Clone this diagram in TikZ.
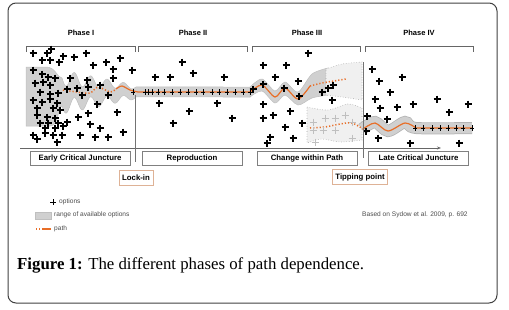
\documentclass[tikz,border=0pt]{standalone}
\usepackage{fontspec}
\setmainfont{Liberation Serif}
\setsansfont{Liberation Sans}
\usepackage{xcolor}
\usetikzlibrary{arrows.meta}

\definecolor{trailorange}{RGB}{232,110,40}
\definecolor{bandgray}{RGB}{208,208,208}
\definecolor{turnbrown}{RGB}{222,178,150}

\begin{document}
\begin{tikzpicture}[x=1pt, y=-1pt,
    phase/.style={inner sep=0pt, font=\sffamily\bfseries\fontsize{7.5}{8}\selectfont},
    stage/.style={rectangle, draw=black!50, fill=white, minimum width=100pt, minimum height=14pt, inner sep=0pt, font=\sffamily\bfseries\fontsize{7.8}{8}\selectfont},
    turn/.style={rectangle, draw=turnbrown, fill=white, minimum height=15pt, inner sep=3pt, font=\sffamily\bfseries\fontsize{7.8}{8}\selectfont},
    legend/.style={anchor=west, inner sep=0pt, text=black!70, font=\sffamily\fontsize{6.6}{7}\selectfont},
    bracket/.style={draw=black!60, line width=0.9pt},
    divider/.style={draw=black!55, line width=0.9pt},
    opt/.style={draw=black, line width=1.1pt},
    faded/.style={draw=black!25, line width=1pt},
    band/.style={fill=bandgray, draw=black!25, line width=0.5pt},
    fog/.style={fill=black!6, draw=black!35, dotted, line width=0.6pt},
    trail/.style={draw=trailorange, line width=1.2pt},
    tick/.style={draw=black, line width=0.8pt}
]
\useasboundingbox (0,0) rectangle (509,309);

% frame
\draw[black!75, line width=1pt, rounded corners=8pt] (8,3) rectangle (497,303);

% phases and brackets
\node[phase] (ph1) at (81,33) {Phase I};
\node[phase] (ph2) at (193,33) {Phase II};
\node[phase] (ph3) at (307,33) {Phase III};
\node[phase] (ph4) at (419,33) {Phase IV};
\draw[bracket] (26,52) -- (26,46) -- (135,46) -- (135,52);
\draw[bracket] (138,52) -- (138,46) -- (247,46) -- (247,52);
\draw[bracket] (252,52) -- (252,46) -- (360,46) -- (360,52);
\draw[bracket] (365,52) -- (365,46) -- (473,46) -- (473,52);

% ranges of options
\filldraw[band] (26,67) -- (46,67) .. controls (56,67) and (57,78) .. (62,78)
  -- plot[domain=62:136, samples=80] (\x, {92 + (2+6*(136-\x)/74)*sin(21.9*(\x-62)) - (5+9*(136-\x)/74)})
  -- (250,87) -- (250,97)
  -- plot[domain=136:62, samples=80] (\x, {92 + (2+6*(136-\x)/74)*sin(21.9*(\x-62)) + (5+9*(136-\x)/74)})
  .. controls (57,106) and (60,126) .. (50,126) -- (26,126) -- cycle;
\filldraw[band] plot[smooth] coordinates {(250,87) (262,79) (275,91) (285,82) (298,92) (312,74) (328,68)}
  -- plot[smooth] coordinates {(328,95) (312,98) (298,105) (285,95) (275,103) (262,91) (250,97)} -- cycle;
\filldraw[fog] plot[smooth] coordinates {(326,69) (342,64) (362,62)} -- (362,100)
  -- plot[smooth] coordinates {(362,100) (342,97) (326,95)} -- cycle;
\filldraw[fog] plot[smooth] coordinates {(307,107) (328,110) (348,104) (362,108)} -- (362,140)
  -- plot[smooth] coordinates {(362,140) (340,142) (322,139) (307,143)} -- cycle;
\draw[black!30, line width=12pt] plot[smooth] coordinates {(362,129) (375,122) (388,131) (405,122) (416,128) (472,128)};
\draw[bandgray, line width=10.5pt] plot[smooth] coordinates {(362,129) (375,122) (388,131) (405,122) (416,128) (472,128)};

% paths
\draw[trail, dotted, line width=1.5pt] plot[smooth] coordinates {(63,90) (77,92) (90,93) (98,87) (110,92) (116,89)};
\draw[trail] plot[smooth] coordinates {(116,89) (122,86) (130,90) (138,92)} -- (250,92);
\draw[trail] plot[smooth] coordinates {(250,92) (262,85) (275,97) (285,88) (298,99) (310,86)};
\draw[trail, dotted, line width=1.5pt] plot[smooth] coordinates {(310,86) (322,83) (334,81) (346,79)};
\draw[trail, dotted, line width=1.5pt] plot[smooth] coordinates {(310,128) (325,127) (340,124) (352,123) (363,129)};
\draw[trail] plot[smooth] coordinates {(363,129) (375,123) (388,131) (405,123) (416,128)} -- (472,128);
\foreach \tx in {133,145,148,152,158,164,172,180,188,196,203,212,219,227,235,243,250}
  \draw[tick] (\tx,89) -- (\tx,95) (\tx-2,92) -- (\tx+2,92);
\foreach \tx in {415,423,432,440,448,456,463,472}
  \draw[tick] (\tx,125) -- (\tx,131) (\tx-2,128) -- (\tx+2,128);

% options
\foreach \px/\py in {33/53,47/53,51/49,42/60,50/60,59/62,63/56,74/57,86/53,93/65,106/62,113/69,120/58,132/70,
    33/70,42/74,48/77,55/78,70/78,87/80,113/78,35/83,43/82,50/85,67/89,77/88,88/87,100/85,
    40/92,50/94,58/93,82/95,108/95,33/100,42/102,50/99,57/103,97/104,37/108,53/108,60/110,88/113,117/112,
    37/115,47/117,55/118,78/117,40/123,48/123,58/123,67/122,90/124,45/128,55/128,63/126,100/128,
    33/135,45/133,53/135,62/135,80/135,95/137,108/137,123/132,37/139,57/142}
  \draw[opt] (\px-3.5,\py) -- (\px+3.5,\py) (\px,\py-3.5) -- (\px,\py+3.5);
\foreach \px/\py in {182/62,155/77,170/77,193/73,224/77,159/103,189/111,217/103,173/123,232/118}
  \draw[opt] (\px-3.5,\py) -- (\px+3.5,\py) (\px,\py-3.5) -- (\px,\py+3.5);
\foreach \px/\py in {308/53,263/65,286/65,275/77,298/81,263/84,284/88,322/92,328/88,332/100,333/85,
    263/104,273/115,290/111,263/118,302/123,285/127,270/137,267/143,293/138,253/89,299/96}
  \draw[opt] (\px-3.5,\py) -- (\px+3.5,\py) (\px,\py-3.5) -- (\px,\py+3.5);
\foreach \px/\py in {313/122,325/118,335/118,345/115,313/130,323/130,335/130,352/122,315/142,352/138}
  \draw[faded] (\px-3.5,\py) -- (\px+3.5,\py) (\px,\py-3.5) -- (\px,\py+3.5);
\foreach \px/\py in {372/69,379/81,402/77,390/92,375/99,380/108,397/107,413/104,437/99,449/112,468/104,
    367/116,387/119,366/131,378/138,410/143,459/143}
  \draw[opt] (\px-3.5,\py) -- (\px+3.5,\py) (\px,\py-3.5) -- (\px,\py+3.5);

% time axis and dividers
\coordinate (axstart) at (20,148);
\coordinate (axend) at (441,148);
\draw[black!60, line width=0.8pt, -{Stealth[length=4pt]}] (axstart) -- (axend);
\draw[divider] (135,95) -- (135,162);
\draw[divider] (363,62) -- (363,158);

% stages
\node[stage] (early) at (80,158) {Early Critical Juncture};
\node[stage] (repro) at (192,158) {Reproduction};
\node[stage] (change) at (307,158) {Change within Path};
\node[stage] (late) at (418.5,158) {Late Critical Juncture};
\node[turn] (lockin) at (136,178) {Lock-in};
\node[turn] (tipping) at (360,177) {Tipping point};

% legend
\draw[opt, line width=0.9pt] (50,202) -- (56,202) (53,199) -- (53,205);
\node[legend] (lgopt) at (59,202) {options};
\filldraw[band] (35,212) rectangle (51,219);
\node[legend] (lgrange) at (54,215) {range of available options};
\draw[trail, dotted, line width=1.3pt] (36,229) -- (43,229);
\draw[trail] (43,229) -- (51,229);
\node[legend] (lgtrail) at (54,229) {path};
\node[legend] (source) at (362,215) {Based on Sydow et al. 2009, p. 692};

% caption
\node[anchor=west, inner sep=0pt, font=\fontsize{16.8}{19}\selectfont] (caption) at (17,265)
  {\textbf{Figure 1:} The different phases of path dependence.};
\end{tikzpicture}
\end{document}
